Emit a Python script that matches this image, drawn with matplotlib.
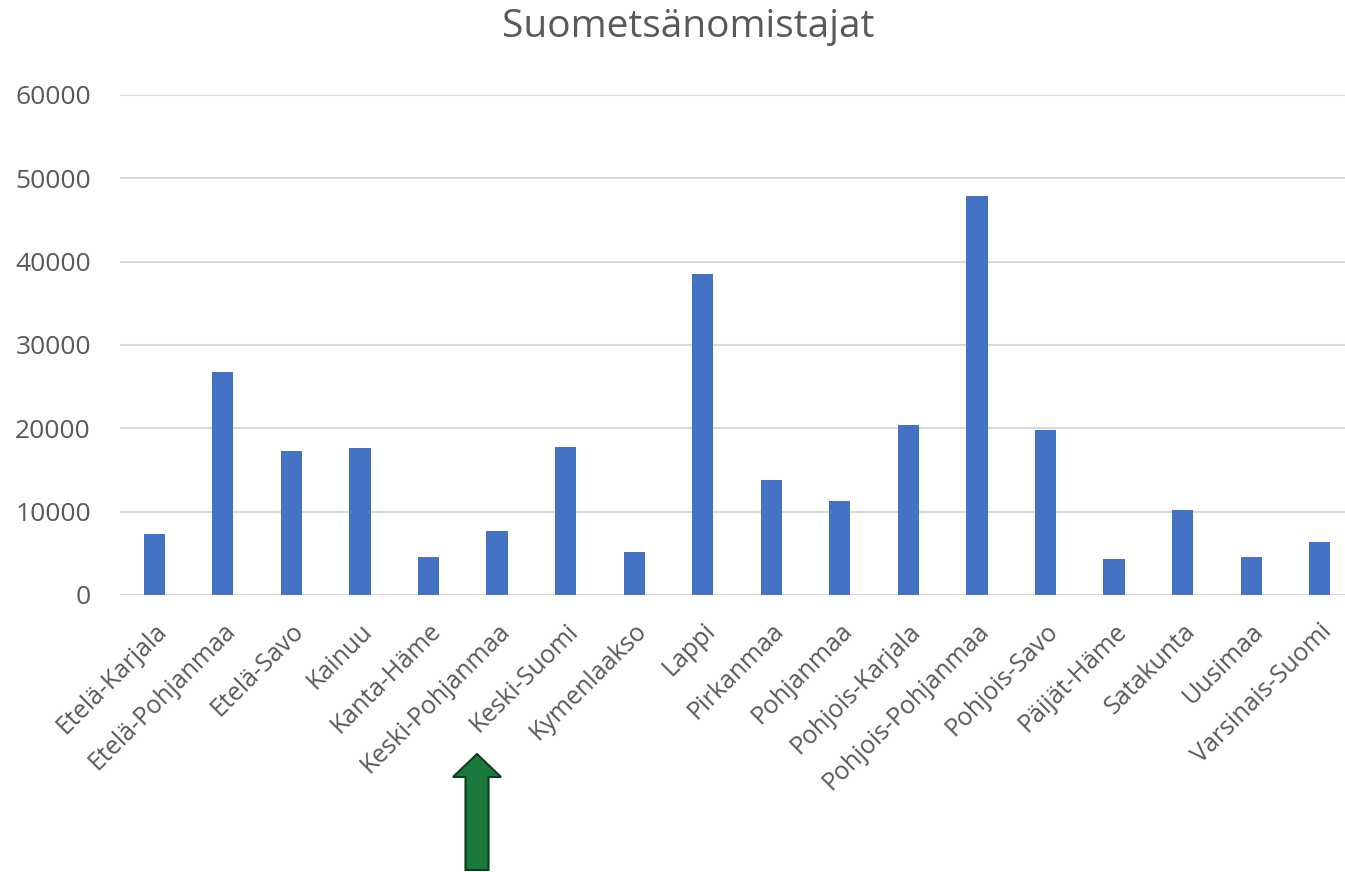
import matplotlib
matplotlib.use("Agg")
import matplotlib.pyplot as plt
from matplotlib.patches import FancyArrow

categories = ["Etelä-Karjala", "Etelä-Pohjanmaa", "Etelä-Savo", "Kainuu", "Kanta-Häme",
              "Keski-Pohjanmaa", "Keski-Suomi", "Kymenlaakso", "Lappi", "Pirkanmaa",
              "Pohjanmaa", "Pohjois-Karjala", "Pohjois-Pohjanmaa", "Pohjois-Savo",
              "Päijät-Häme", "Satakunta", "Uusimaa", "Varsinais-Suomi"]
values = [7300, 26800, 17250, 17650, 4600, 7700, 17800, 5200, 38500, 13750,
          11250, 20400, 47900, 19850, 4350, 10250, 4550, 6350]
yticks = [0, 10000, 20000, 30000, 40000, 50000, 60000]
title = "Suometsänomistajat"

plt.rcParams['font.family'] = ['Open Sans', 'DejaVu Sans']
gray = "#595959"

fig = plt.figure(figsize=(13.45, 8.72), dpi=100)
ax = fig.add_axes([120/1345, 277/872, 1 - 120/1345, 500/872])
x = list(range(len(categories)))
ax.bar(x, values, width=0.31, color="#4472C4", zorder=3)
ax.set_xlim(-0.5, 17.5 - 9/68.6)
ax.set_ylim(0, 60000)
ax.set_yticks(yticks)
ax.set_yticklabels([str(v) for v in yticks], fontsize=19, color=gray)
ax.set_xticks(x)
ax.set_xticklabels(categories, rotation=45, ha='right', rotation_mode='anchor',
                   fontsize=18, color=gray)
ax.tick_params(axis='both', length=0)
ax.tick_params(axis='y', pad=21)
ax.tick_params(axis='x', pad=17)
ax.grid(axis='y', color="#d9d9d9", linewidth=1.5, zorder=0)
for s in ax.spines.values():
    s.set_visible(False)

fig.text(688/1345, 1 - 27/872, title, ha='center', va='center', fontsize=28, color=gray)

arrow = FancyArrow(477/1345, 1 - 870/872, 0, (870 - 754)/872, width=23/1345,
                   head_width=48/1345, head_length=23/872, length_includes_head=True,
                   transform=fig.transFigure, facecolor="#1a7a3e", edgecolor="#0d3d1f",
                   linewidth=1.5)
fig.patches.append(arrow)

fig.savefig("out.png", dpi=100)
